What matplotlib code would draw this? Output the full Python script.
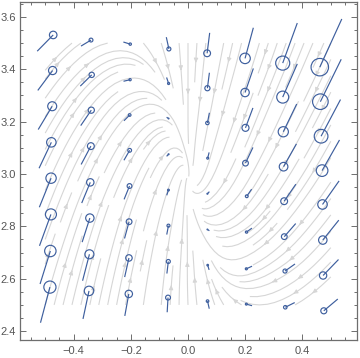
import numpy as np
import matplotlib.pyplot as plt

# sample grid of the vector field
xs = np.linspace(-0.5, 0.5, 8)
ys = np.linspace(2.5, 3.5, 8)

# field values, rows from top (y=3.5) to bottom (y=2.5)
U_top = [
    [0.056, 0.035, 0.024, 0.009, -0.009, -0.029, -0.051, -0.077],
    [0.052, 0.040, 0.023, 0.007, -0.007, -0.029, -0.051, -0.073],
    [0.049, 0.037, 0.020, 0.007, -0.007, -0.026, -0.047, -0.068],
    [0.043, 0.034, 0.020, 0.007, -0.005, -0.026, -0.045, -0.061],
    [0.041, 0.030, 0.019, 0.006, -0.007, -0.017, -0.041, -0.058],
    [0.040, 0.027, 0.016, 0.006, -0.007, -0.019, -0.040, -0.056],
    [0.036, 0.024, 0.015, 0.005, -0.005, -0.020, -0.035, -0.054],
    [0.033, 0.021, 0.014, 0.003, -0.006, -0.020, -0.033, -0.049],
]
V_top = [
    [0.062, 0.023, -0.008, -0.045, -0.078, -0.117, -0.153, -0.184],
    [0.076, 0.043, 0.006, -0.023, -0.059, -0.092, -0.127, -0.162],
    [0.089, 0.059, 0.022, -0.005, -0.039, -0.076, -0.106, -0.140],
    [0.099, 0.070, 0.038, 0.008, -0.022, -0.060, -0.087, -0.117],
    [0.111, 0.079, 0.051, 0.020, -0.008, -0.027, -0.065, -0.090],
    [0.120, 0.092, 0.064, 0.034, 0.005, -0.015, -0.050, -0.076],
    [0.126, 0.101, 0.073, 0.046, 0.018, -0.010, -0.027, -0.061],
    [0.136, 0.107, 0.084, 0.056, 0.029, 0.006, -0.018, -0.045],
]

U = np.flipud(np.array(U_top))
V = np.flipud(np.array(V_top))
X, Y = np.meshgrid(xs, ys)

frame_col = "#6e6e6e"
pin_col = "#3e5f9e"

fig = plt.figure(figsize=(3.6, 3.58), dpi=100)
ax = fig.add_axes([19.5 / 360, 18 / 358, 337 / 360, 338.3 / 358])
ax.set_xlim(-0.59, 0.59)
ax.set_ylim(2.366, 3.658)

try:
    ax.streamplot(xs, ys, U, V, density=1.1, color="#d6d6d6", linewidth=0.8,
                  arrowsize=0.6, num_arrows=3, zorder=1)
except TypeError:
    ax.streamplot(xs, ys, U, V, density=1.1, color="#d6d6d6", linewidth=0.8,
                  arrowsize=0.6, zorder=1)

# pins: line centred on the grid point, circle at the head
fig.canvas.draw()
for i in range(8):
    for j in range(8):
        x0, y0 = X[i, j], Y[i, j]
        u, v = U[i, j], V[i, j]
        ax.plot([x0 - u / 2, x0 + u / 2], [y0 - v / 2, y0 + v / 2],
                color=pin_col, lw=0.85, zorder=3, solid_capstyle="butt")
        p0 = ax.transData.transform((x0 - u / 2, y0 - v / 2))
        p1 = ax.transData.transform((x0 + u / 2, y0 + v / 2))
        L = np.hypot(*(p1 - p0))
        r = 0.165 * L
        ax.scatter([x0 + u / 2], [y0 + v / 2], s=(2 * r * 0.72) ** 2,
                   facecolors="none", edgecolors=pin_col, linewidths=0.85, zorder=4)

ax.set_xticks([-0.4, -0.2, 0.0, 0.2, 0.4])
ax.set_xticklabels(["\u22120.4", "\u22120.2", "0.0", "0.2", "0.4"])
ax.set_yticks([2.4, 2.6, 2.8, 3.0, 3.2, 3.4, 3.6])
ax.set_yticklabels(["2.4", "2.6", "2.8", "3.0", "3.2", "3.4", "3.6"])
ax.set_xticks(np.arange(-0.55, 0.56, 0.05), minor=True)
ax.set_yticks(np.arange(2.4, 3.66, 0.05), minor=True)
ax.tick_params(which="both", direction="in", top=True, right=True,
               color=frame_col, width=0.7, labelcolor="#555555", labelsize=8)
ax.tick_params(which="major", length=4.5, pad=4)
ax.tick_params(which="minor", length=2.5)
ax.tick_params(axis="y", pad=2.5)
for lab in ax.get_xticklabels() + ax.get_yticklabels():
    lab.set_family("Liberation Sans")
for s in ax.spines.values():
    s.set_color(frame_col)
    s.set_linewidth(0.9)

fig.savefig("out.png", dpi=100)
